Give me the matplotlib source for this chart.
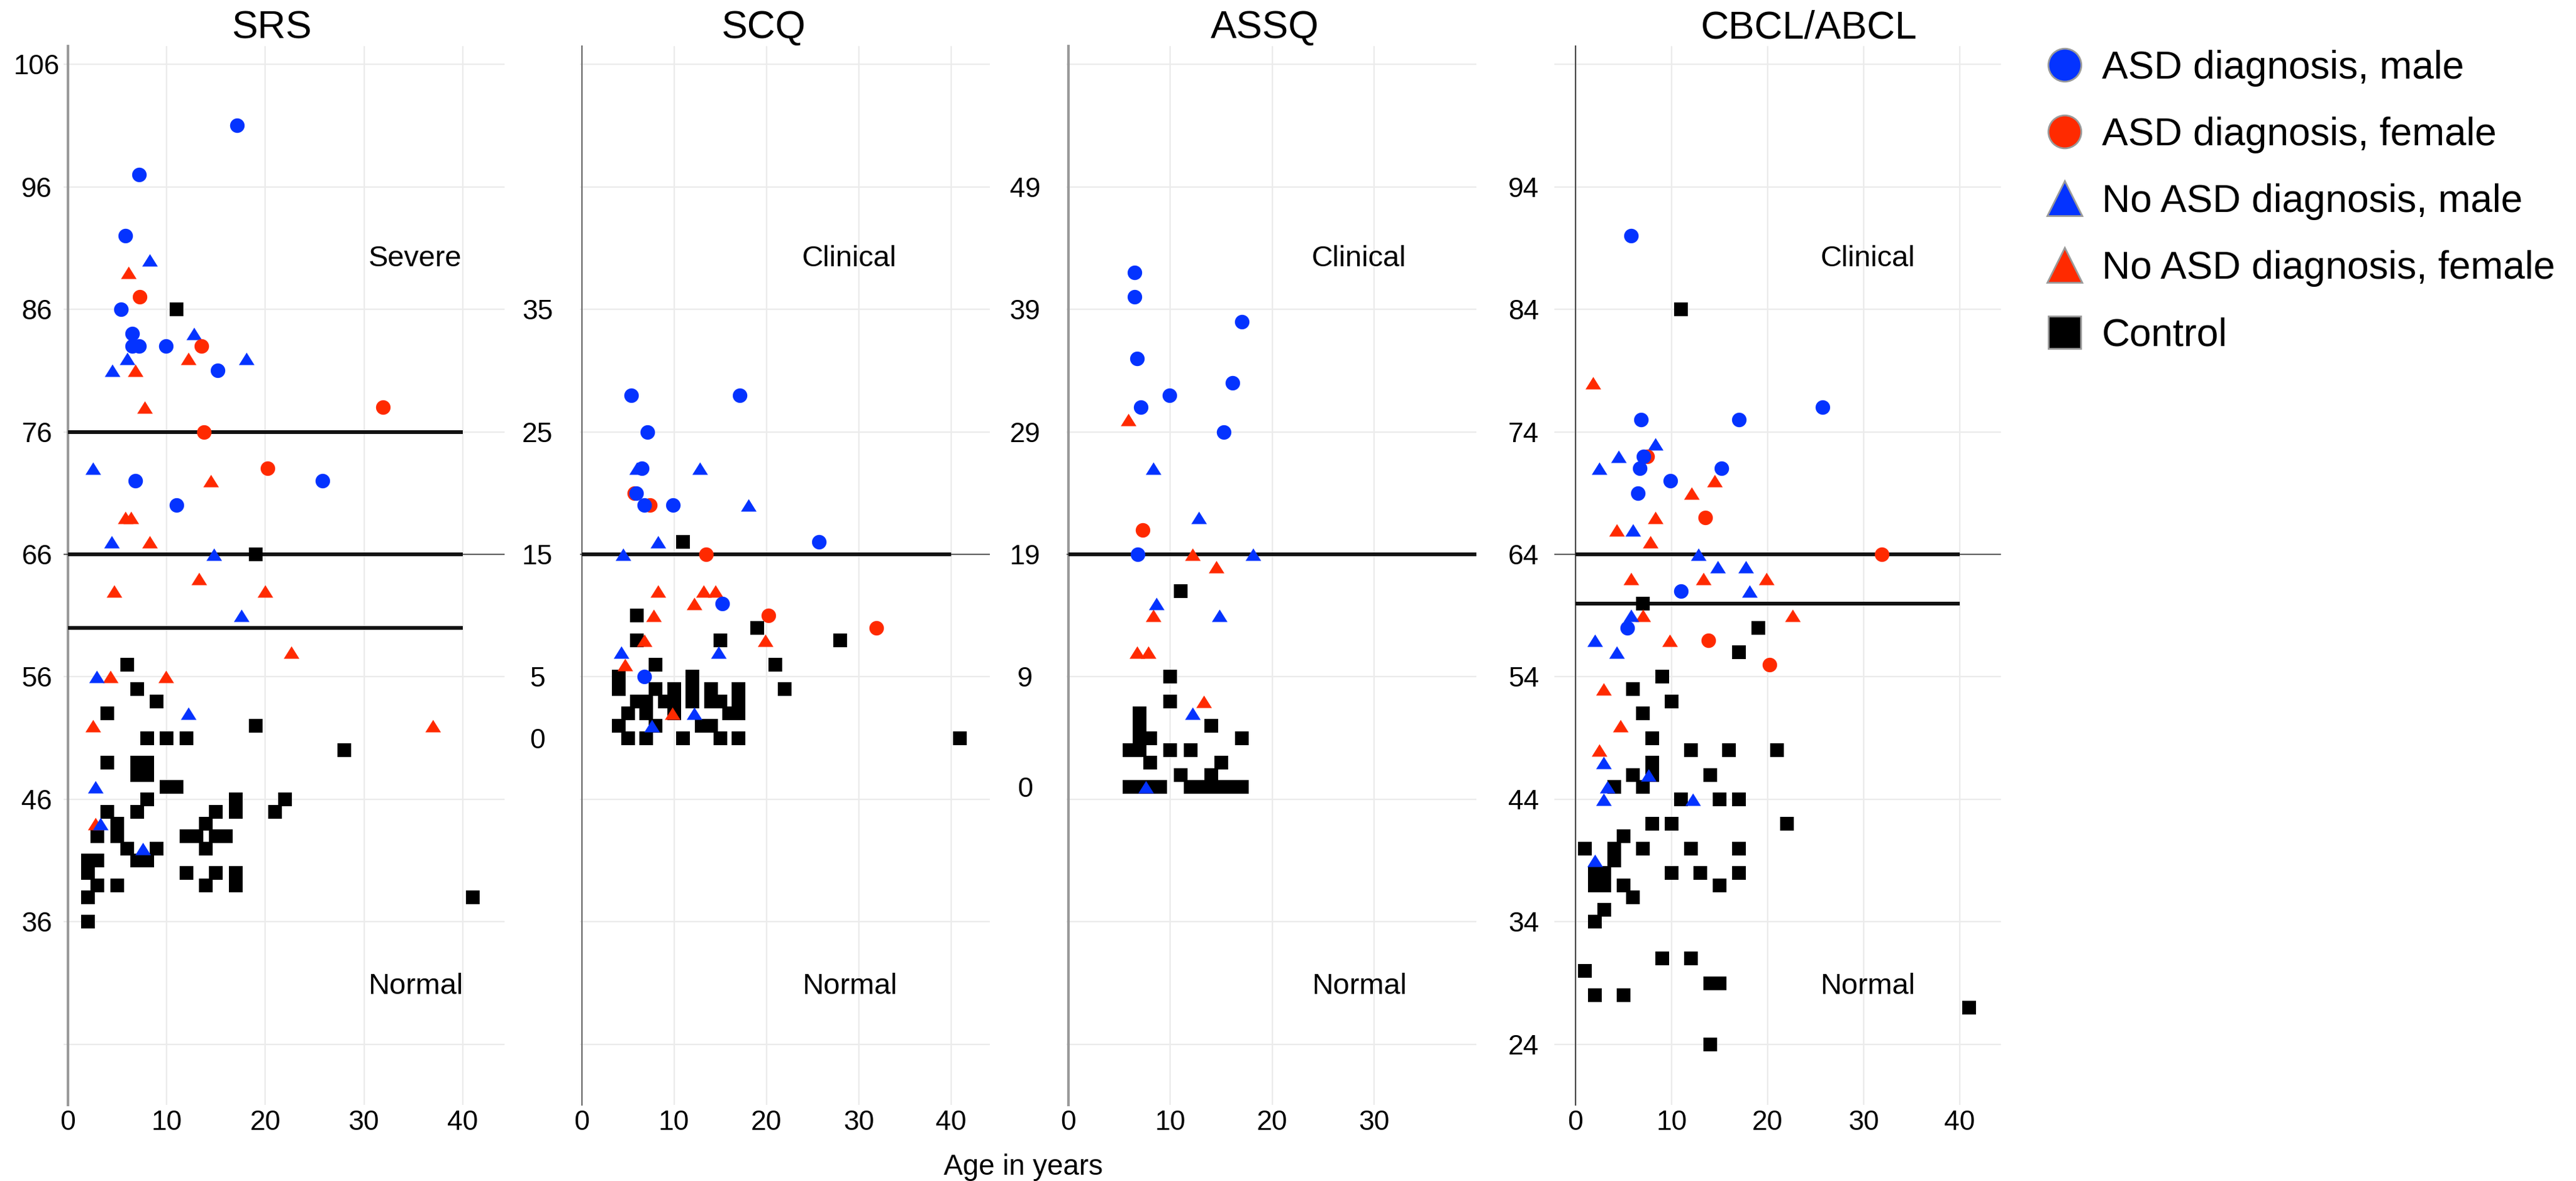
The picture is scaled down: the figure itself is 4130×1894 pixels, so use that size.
from __future__ import annotations

import matplotlib

matplotlib.use("Agg")

import matplotlib.pyplot as plt
from matplotlib.lines import Line2D

plt.rcParams["font.family"] = ["Liberation Sans", "DejaVu Sans"]

OUTPUT_PATH = "out.png"
FIG_W_PX, FIG_H_PX = 4130, 1894
DPI = 100

BLUE = "#0433ff"
RED = "#ff2a00"
BLACK = "#000000"

GROUP_LABELS = [
    "ASD diagnosis, male",
    "ASD diagnosis, female",
    "No ASD diagnosis, male",
    "No ASD diagnosis, female",
    "Control",
]

# ---- SRS: age in years / score -------------------------------------------
srs_asd_m_age = [17.1, 7.2, 5.8, 5.4, 6.5, 6.5, 7.2, 9.9, 15.2, 6.8, 11.0, 25.8]
srs_asd_m = [101, 97, 92, 86, 84, 83, 83, 83, 81, 72, 70, 72]
srs_asd_f_age = [7.3, 13.5, 13.8, 31.9, 20.2]
srs_asd_f = [87, 83, 76, 78, 73]
srs_no_m_age = [8.3, 12.8, 6.0, 4.5, 18.1, 2.5, 4.4, 14.8, 17.6, 2.9, 12.2, 2.8, 3.3, 7.6]
srs_no_m = [90, 84, 82, 81, 82, 73, 67, 66, 61, 56, 53, 47, 44, 42]
srs_no_f_age = [6.1, 12.2, 6.8, 7.8, 14.5, 5.8, 6.4, 8.3, 13.3, 4.7, 20.0, 22.6,
                4.3, 9.9, 2.5, 37.0, 2.8]
srs_no_f = [89, 82, 81, 78, 72, 69, 69, 67, 64, 63, 63, 58, 56, 56, 52, 52, 44]
srs_ctrl_age = [11, 19, 6, 7, 9, 4, 19, 8, 10, 12, 28, 4, 7, 8, 7, 8, 10, 11, 8, 17,
                22, 7, 4, 15, 17, 21, 5, 14, 3, 5, 12, 13, 15, 16, 6, 9, 14, 7, 8, 2,
                3, 2, 12, 15, 17, 3, 5, 14, 17, 2, 2, 41]
srs_ctrl = [86, 66, 57, 55, 54, 53, 52, 51, 51, 51, 50, 49, 49, 49, 48, 48, 47, 47, 46, 46,
            46, 45, 45, 45, 45, 45, 44, 44, 43, 43, 43, 43, 43, 43, 42, 42, 42, 41, 41, 41,
            41, 40, 40, 40, 40, 39, 39, 39, 39, 38, 36, 38]

# ---- SCQ ------------------------------------------------------------------
scq_asd_m_age = [5.4, 17.1, 7.1, 6.5, 5.9, 6.8, 9.9, 25.7, 15.2, 6.8]
scq_asd_m = [28, 28, 25, 22, 20, 19, 19, 16, 11, 5]
scq_asd_f_age = [5.7, 7.4, 13.5, 20.2, 31.9]
scq_asd_f = [20, 19, 15, 10, 9]
scq_no_m_age = [6.0, 12.8, 18.1, 8.3, 4.5, 4.3, 14.8, 12.2, 7.6]
scq_no_m = [22, 22, 19, 16, 15, 7, 7, 2, 1]
scq_no_f_age = [8.3, 13.2, 14.5, 12.2, 7.8, 6.8, 4.7, 19.9, 9.8]
scq_no_f = [12, 12, 12, 11, 10, 8, 6, 8, 2]
scq_ctrl_age = [11, 6, 6, 8, 15, 19, 28, 21, 22, 4, 4, 12, 12, 12, 14, 14, 17, 17, 17, 16,
                15, 8, 6, 7, 9, 5, 4, 5, 7, 7, 8, 10, 10, 10, 11, 13, 14, 15, 17, 41]
scq_ctrl = [16, 10, 8, 6, 8, 9, 8, 6, 4, 5, 4, 5, 4, 3, 4, 3, 4, 3, 2, 2,
            3, 4, 3, 3, 3, 2, 1, 0, 0, 2, 1, 4, 3, 2, 0, 1, 1, 0, 0, 0]

# ---- ASSQ -----------------------------------------------------------------
assq_asd_m_age = [6.5, 6.5, 17.0, 6.7, 16.1, 9.9, 7.1, 15.2, 6.8]
assq_asd_m = [42, 40, 38, 35, 33, 32, 31, 29, 19]
assq_asd_f_age = [7.25]
assq_asd_f = [21]
assq_no_m_age = [8.3, 12.8, 18.1, 8.6, 14.8, 12.2, 7.6]
assq_no_m = [26, 22, 19, 15, 14, 6, 0]
assq_no_f_age = [5.9, 12.2, 14.5, 8.3, 6.7, 7.8, 13.3]
assq_no_f = [30, 19, 18, 14, 11, 11, 7]
assq_ctrl_age = [11, 10, 10, 7, 7, 7, 8, 6, 7, 8, 10, 12, 14, 17, 15, 11, 14,
                 6, 7, 8, 9, 12, 13, 14, 15, 16, 17]
assq_ctrl = [16, 9, 7, 6, 5, 4, 4, 3, 3, 2, 3, 3, 5, 4, 2, 1, 1,
             0, 0, 0, 0, 0, 0, 0, 0, 0, 0]

# ---- CBCL/ABCL ------------------------------------------------------------
cbcl_asd_m_age = [5.8, 6.8, 17.0, 25.7, 7.1, 6.7, 15.2, 9.9, 6.5, 11.0, 5.4]
cbcl_asd_m = [90, 75, 75, 76, 72, 71, 71, 70, 69, 61, 58]
cbcl_asd_f_age = [7.5, 13.5, 31.9, 13.8, 20.2]
cbcl_asd_f = [72, 67, 64, 57, 55]
cbcl_no_m_age = [8.3, 4.5, 2.5, 6.0, 12.8, 14.8, 17.7, 18.1, 5.8, 2.0, 4.3, 2.9, 7.6,
                 3.3, 2.9, 12.2, 2.0]
cbcl_no_m = [73, 72, 71, 66, 64, 63, 63, 61, 59, 57, 56, 47, 46, 45, 44, 44, 39]
cbcl_no_f_age = [1.8, 14.5, 12.1, 8.3, 4.3, 7.8, 5.8, 13.3, 19.9, 7.0, 22.6, 9.8, 2.9,
                 4.7, 2.5]
cbcl_no_f = [78, 70, 69, 67, 66, 65, 62, 62, 62, 59, 59, 57, 53, 50, 48]
cbcl_ctrl_age = [11, 7, 19, 17, 9, 6, 10, 7, 8, 12, 16, 21, 8, 6, 8, 14, 4, 7, 11, 15,
                 17, 8, 10, 22, 5, 1, 4, 7, 12, 17, 4, 10, 13, 17, 2, 3, 2, 3, 5, 15,
                 6, 3, 2, 9, 12, 1, 14, 15, 2, 5, 41, 14]
cbcl_ctrl = [84, 60, 58, 56, 54, 53, 52, 51, 49, 48, 48, 48, 47, 46, 46, 46, 45, 45, 44, 44,
             44, 42, 42, 42, 41, 40, 40, 40, 40, 40, 39, 38, 38, 38, 38, 38, 37, 37, 37, 37,
             36, 35, 34, 31, 31, 30, 29, 29, 28, 28, 27, 24]

# cut-off lines per questionnaire (first one also drawn thin across the panel)
srs_cutoffs = [66, 76, 60]
scq_cutoffs = [15]
assq_cutoffs = [19]
cbcl_cutoffs = [64, 60]

# flat, slightly wide triangle like the original
TRIANGLE = [(-1.0, -0.8), (1.0, -0.8), (0.0, 0.8)]

# style per group, in legend order
GROUP_STYLES = [
    {"color": BLUE, "marker": "o", "s": 282, "legend_marker": "o", "legend_size": 38},
    {"color": RED, "marker": "o", "s": 282, "legend_marker": "o", "legend_size": 38},
    {"color": BLUE, "marker": TRIANGLE, "s": 324, "legend_marker": "^", "legend_size": 40},
    {"color": RED, "marker": TRIANGLE, "s": 324, "legend_marker": "^", "legend_size": 40},
    {"color": BLACK, "marker": "s", "s": 266, "legend_marker": "s", "legend_size": 37},
]

PANELS = [
    {
        "title": "SRS", "title_x": 0.472,
        "groups": [(srs_asd_m_age, srs_asd_m), (srs_asd_f_age, srs_asd_f),
                   (srs_no_m_age, srs_no_m), (srs_no_f_age, srs_no_f),
                   (srs_ctrl_age, srs_ctrl)],
        "px": (101.9, 809.0), "xlim": (-0.45, 44.25), "ylim": (21.06, 107.48),
        "xticks": [0, 10, 20, 30, 40],
        "grid_y": [26, 36, 46, 56, 66, 76, 86, 96, 106],
        "labelled_y": [36, 46, 56, 66, 76, 86, 96, 106], "extra_y": [],
        "cutoffs": srs_cutoffs, "upper": "Severe", "band_x": 35.2,
        "label_pad": 36, "spine": ("#9a9a9a", 3.0),
    },
    {
        "title": "SCQ", "title_x": 0.447,
        "groups": [(scq_asd_m_age, scq_asd_m), (scq_asd_f_age, scq_asd_f),
                   (scq_no_m_age, scq_no_m), (scq_no_f_age, scq_no_f),
                   (scq_ctrl_age, scq_ctrl)],
        "px": (929.6, 1586.8), "xlim": (-0.2, 44.2), "ylim": (-29.94, 56.48),
        "xticks": [0, 10, 20, 30, 40],
        "grid_y": [-25, -15, -5, 5, 15, 25, 35, 45, 55],
        "labelled_y": [5, 15, 25, 35], "extra_y": [0],
        "cutoffs": scq_cutoffs, "upper": "Clinical", "band_x": 29.0,
        "label_pad": 51, "spine": ("#6a6a6a", 1.6),
    },
    {
        "title": "ASSQ", "title_x": 0.484,
        "groups": [(assq_asd_m_age, assq_asd_m), (assq_asd_f_age, assq_asd_f),
                   (assq_no_m_age, assq_no_m), (assq_no_f_age, assq_no_f),
                   (assq_ctrl_age, assq_ctrl)],
        "px": (1709.7, 2367.0), "xlim": (-0.2, 40.0), "ylim": (-25.94, 60.48),
        "xticks": [0, 10, 20, 30],
        "grid_y": [-21, -11, -1, 9, 19, 29, 39, 49, 59],
        "labelled_y": [9, 19, 29, 39, 49], "extra_y": [0],
        "cutoffs": assq_cutoffs, "upper": "Clinical", "band_x": 28.5,
        "label_pad": 50, "spine": ("#9a9a9a", 3.0),
    },
    {
        "title": "CBCL/ABCL", "title_x": 0.570,
        "groups": [(cbcl_asd_m_age, cbcl_asd_m), (cbcl_asd_f_age, cbcl_asd_f),
                   (cbcl_no_m_age, cbcl_no_m), (cbcl_no_f_age, cbcl_no_f),
                   (cbcl_ctrl_age, cbcl_ctrl)],
        "px": (2492.1, 3208.2), "xlim": (-2.2, 44.3), "ylim": (19.06, 105.48),
        "xticks": [0, 10, 20, 30, 40],
        "grid_y": [24, 34, 44, 54, 64, 74, 84, 94, 104],
        "labelled_y": [24, 34, 44, 54, 64, 74, 84, 94], "extra_y": [],
        "cutoffs": cbcl_cutoffs, "upper": "Clinical", "band_x": 30.4,
        "label_pad": 60, "spine": ("#4a4a4a", 1.6),
    },
]

AXES_TOP_PX, AXES_BOTTOM_PX = 74, 1772


def draw_panel(fig: plt.Figure, panel: dict) -> plt.Axes:
    """Draw one questionnaire panel: grid, cut-offs, points and band labels."""
    left_px, right_px = panel["px"]
    ax = fig.add_axes([
        left_px / FIG_W_PX,
        (FIG_H_PX - AXES_BOTTOM_PX) / FIG_H_PX,
        (right_px - left_px) / FIG_W_PX,
        (AXES_BOTTOM_PX - AXES_TOP_PX) / FIG_H_PX,
    ])
    ax.set_xlim(*panel["xlim"])
    ax.set_ylim(*panel["ylim"])

    for side in ("top", "right", "bottom"):
        ax.spines[side].set_visible(False)
    spine_color, spine_width = panel["spine"]
    ax.spines["left"].set_position(("data", 0))
    ax.spines["left"].set_color(spine_color)
    ax.spines["left"].set_linewidth(spine_width)
    ax.spines["left"].set_zorder(2.5)

    ax.set_xticks(panel["xticks"])
    ax.set_xticklabels([str(t) for t in panel["xticks"]])
    ax.set_yticks(panel["grid_y"])
    ax.set_yticklabels(
        [str(v) if v in panel["labelled_y"] else "" for v in panel["grid_y"]]
    )
    if panel["extra_y"]:
        ax.set_yticks(panel["extra_y"], minor=True)
        ax.set_yticklabels([str(v) for v in panel["extra_y"]], minor=True)
    ax.tick_params(axis="both", which="both", length=0, labelsize=32)
    ax.tick_params(axis="x", pad=6)
    ax.tick_params(axis="y", which="both", pad=panel["label_pad"])
    ax.grid(True, which="major", color="#ebebeb", linewidth=1.7)
    ax.set_axisbelow(True)

    cutoffs = panel["cutoffs"]
    ax.axhline(cutoffs[0], color="#333333", linewidth=1.1, zorder=2.8)
    ax.hlines(cutoffs, 0, 40, color="#111111", linewidth=4.3, zorder=3)

    # controls at the bottom, ASD males on top
    for (ages, scores), style in reversed(list(zip(panel["groups"], GROUP_STYLES))):
        ax.scatter(ages, scores, s=style["s"], marker=style["marker"],
                   color=style["color"], linewidths=0, zorder=4)

    band = ax.get_xaxis_transform()
    ax.text(panel["band_x"], 0.792, panel["upper"], transform=band,
            ha="center", va="baseline", fontsize=34)
    ax.text(panel["band_x"], 0.105, "Normal", transform=band,
            ha="center", va="baseline", fontsize=34)

    ax.set_title(panel["title"], x=panel["title_x"], pad=6, fontsize=45)
    return ax


def plot_questionnaires() -> None:
    fig = plt.figure(figsize=(FIG_W_PX / DPI, FIG_H_PX / DPI), dpi=DPI)

    axes = [draw_panel(fig, panel) for panel in PANELS]

    fig.text(1641 / FIG_W_PX, (FIG_H_PX - 1884) / FIG_H_PX, "Age in years",
             ha="center", va="baseline", fontsize=33)

    handles = [
        Line2D([], [], linestyle="none", marker=style["legend_marker"],
               markersize=style["legend_size"], markerfacecolor=style["color"],
               markeredgecolor="#9a9a9a", markeredgewidth=2)
        for style in GROUP_STYLES
    ]
    fig.legend(
        handles, GROUP_LABELS,
        loc="upper left",
        bbox_to_anchor=(3279 / FIG_W_PX, (FIG_H_PX - 80) / FIG_H_PX),
        frameon=False, fontsize=45,
        handlelength=1.0, handletextpad=0.45, labelspacing=0.77,
        borderpad=0, borderaxespad=0,
    )

    # y tick labels are centred under their own position, like the original
    for ax in axes:
        for label in ax.get_yticklabels(which="both"):
            label.set_horizontalalignment("center")

    fig.savefig(OUTPUT_PATH, dpi=DPI)
    plt.close(fig)


if __name__ == "__main__":
    plot_questionnaires()
